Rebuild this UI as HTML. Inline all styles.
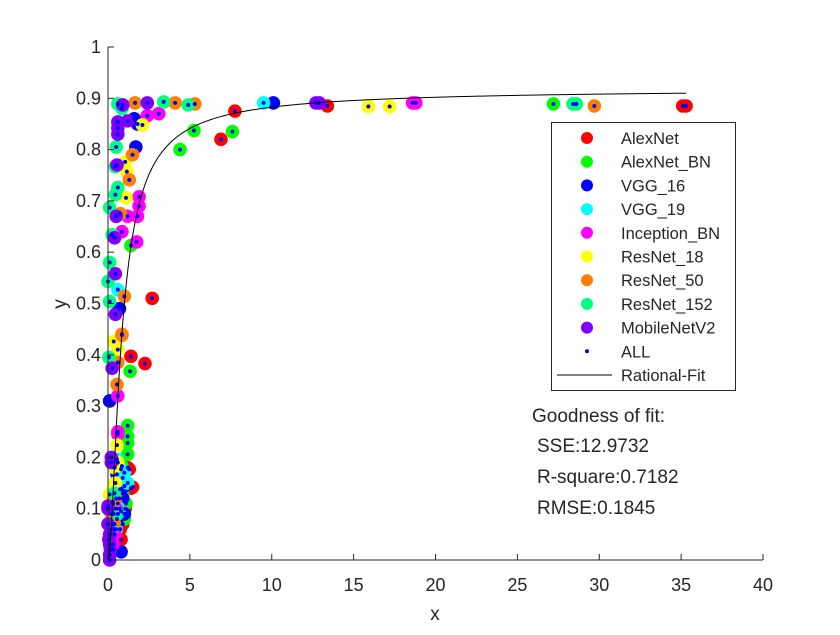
<!DOCTYPE html>
<html><head><meta charset="utf-8"><style>
body{margin:0;background:#fff;}
svg text{font-family:"Liberation Sans",sans-serif;fill:#262626;}
</style></head><body>
<svg id="chart" width="840" height="630" xmlns="http://www.w3.org/2000/svg">
<rect width="840" height="630" fill="#fff"/>
<g id="marks"></g>
<g id="axes"></g>
<g id="legend"></g>
<g font-size="19">
<text x="532" y="422">Goodness of fit:</text>
<text x="537" y="452">SSE:12.9732</text>
<text x="537" y="483">R-square:0.7182</text>
<text x="537" y="514">RMSE:0.1845</text>
</g>
</svg>
<script>
const seriesNames=["AlexNet","AlexNet_BN","VGG_16","VGG_19","Inception_BN","ResNet_18","ResNet_50","ResNet_152","MobileNetV2"];
const seriesColors=["#ff0000","#00ff00","#0000ff","#00ffff","#ff00ff","#ffff00","#ff8000","#00ff80","#8000ff"];
const alexnet=[[35.3,0.885],[35.1,0.885],[13.4,0.885],[7.75,0.875],[6.9,0.82],[2.7,0.51],[2.26,0.383],[1.4,0.397],[1.3,0.177],[1.5,0.142],[0.75,0.06],[0.8,0.04],[0.9,0.07],[1.4,0.14],[1.2,0.18],[1.05,0.1]];
const alexnetBN=[[27.2,0.889],[5.25,0.837],[7.6,0.835],[4.4,0.80],[1.35,0.368],[1.2,0.262],[1.2,0.241],[1.2,0.228],[1.2,0.206],[0.85,0.183],[0.8,0.095],[1.1,0.11],[1.4,0.613],[0.9,0.13],[1.0,0.08],[0.7,0.12]];
const vgg16=[[10.1,0.891],[1.7,0.805],[1.8,0.85],[0.55,0.167],[0.75,0.138],[1.0,0.144],[0.55,0.08],[0.1,0.31],[0.7,0.49],[0.8,0.016],[1.0,0.09],[1.6,0.86],[0.3,0.02],[0.9,0.12],[0.6,0.11],[0.4,0.06]];
const vgg19=[[9.5,0.891],[0.6,0.527],[0.8,0.177],[0.55,0.196],[0.9,0.16],[1.2,0.15],[0.5,0.06],[0.7,0.1],[1.0,0.17],[0.35,0.09]];
const inceptionBN=[[18.6,0.891],[18.8,0.891],[1.9,0.708],[1.8,0.67],[1.2,0.67],[1.75,0.62],[0.85,0.64],[3.1,0.87],[2.4,0.866],[0.6,0.32],[0.6,0.25],[0.6,0.245],[0.4,0.05],[1.9,0.69],[0.5,0.1],[0.3,0.03]];
const resnet18=[[15.9,0.884],[17.2,0.884],[1.05,0.776],[1.15,0.757],[1.1,0.706],[2.1,0.848],[0.35,0.426],[0.55,0.224],[0.4,0.18],[0.1,0.128],[0.3,0.07],[0.6,0.41],[0.45,0.15],[0.3,0.11],[0.6,0.19]];
const resnet50=[[29.7,0.885],[5.3,0.889],[4.1,0.891],[1.65,0.891],[1.5,0.79],[1.3,0.741],[0.75,0.675],[1.0,0.514],[0.85,0.438],[0.6,0.385],[0.55,0.342],[0.3,0.113],[0.2,0.09],[0.85,0.44],[0.5,0.12],[0.4,0.07]];
const resnet152=[[28.4,0.889],[28.6,0.889],[4.9,0.887],[3.4,0.893],[0.6,0.889],[0.5,0.805],[0.45,0.767],[0.6,0.726],[0.45,0.712],[0.1,0.687],[0.25,0.634],[0.1,0.58],[0.0,0.543],[0.1,0.504],[0.05,0.395],[0.2,0.06],[0.85,0.88],[0.4,0.13],[0.6,0.09]];
const mobilenet=[[12.7,0.891],[12.9,0.891],[2.4,0.891],[0.9,0.887],[0.6,0.854],[0.6,0.842],[0.6,0.83],[1.2,0.856],[0.55,0.77],[0.5,0.67],[0.4,0.628],[0.45,0.558],[0.45,0.479],[0.25,0.374],[0.2,0.2],[0.2,0.19],[0.0,0.105],[0.1,0.05],[0.1,0.03],[0.1,0.01],[0.1,0.0],[0.0,0.07],[0.05,0.04],[0.15,0.02],[0.0,0.1]];
const allSeries=[alexnet,alexnetBN,vgg16,vgg19,inceptionBN,resnet18,resnet50,resnet152,mobilenet];
const xTicks=[0,5,10,15,20,25,30,35,40];
const yTicks=[0,0.1,0.2,0.3,0.4,0.5,0.6,0.7,0.8,0.9,1];
const yTickLabels=["0","0.1","0.2","0.3","0.4","0.5","0.6","0.7","0.8","0.9","1"];
const fitCoef=[0.92,0.376,0.464];
const fitRange=[0,35.3];

const NS="http://www.w3.org/2000/svg";
const X0=108,X1=763,Y0=560,Y1=47;
function sx(v){return X0+(v-0)/(40-0)*(X1-X0);}
function sy(v){return Y0-(v-0)/(1-0)*(Y0-Y1);}
function mk(tag,attrs,parent){const e=document.createElementNS(NS,tag);for(const k in attrs)e.setAttribute(k,attrs[k]);parent.appendChild(e);return e;}
const marks=document.getElementById('marks');
allSeries.forEach((s,i)=>{
  const g=mk('g',{},marks);
  
  
  s.forEach(p=>{
    const c=mk('circle',{cx:sx(p[0]),cy:sy(p[1]),r:6.8,fill:seriesColors[i]},g);
    
    
  });
});
const gAll=mk('g',{},marks);


allSeries.forEach(s=>s.forEach(p=>{
  const c=mk('circle',{cx:sx(p[0]),cy:sy(p[1]),r:2,fill:'#0000ff'},gAll);
  
  
}));
let d='';
for(let k=0;k<=400;k++){
  const x=fitRange[0]+(fitRange[1]-fitRange[0])*Math.pow(k/400,2);
  const y=fitCoef[0]*x*x/(x*x+fitCoef[1]*x+fitCoef[2]);
  d+=(k?'L':'M')+sx(x).toFixed(2)+','+sy(y).toFixed(2);
}
const fit=mk('path',{d:d,fill:'none',stroke:'#000','stroke-width':1},marks);



const axes=document.getElementById('axes');
const xa=mk('line',{x1:X0,y1:Y0,x2:X1,y2:Y0,stroke:'#262626','stroke-width':1},axes);


const ya=mk('line',{x1:X0,y1:Y0,x2:X0,y2:Y1,stroke:'#262626','stroke-width':1},axes);


xTicks.forEach(v=>{
  const t=mk('line',{x1:sx(v),y1:Y0,x2:sx(v),y2:Y0-6,stroke:'#262626'},axes);
  
  
  const l=mk('text',{x:sx(v),y:Y0+31,'text-anchor':'middle','font-size':18},axes);
  l.textContent=String(v);
  
  
});
yTicks.forEach((v,i)=>{
  const t=mk('line',{x1:X0,y1:sy(v),x2:X0+6,y2:sy(v),stroke:'#262626'},axes);
  
  
  const l=mk('text',{x:X0-7,y:sy(v)+6,'text-anchor':'end','font-size':18},axes);
  l.textContent=yTickLabels[i];
  
  
});
const xt=mk('text',{x:435,y:620,'text-anchor':'middle','font-size':19},axes);
xt.textContent='x';


const yt=mk('text',{x:66,y:304,'text-anchor':'middle','font-size':19,transform:'rotate(-90 66 304)'},axes);
yt.textContent='y';



const lg=document.getElementById('legend');
const box=mk('rect',{x:551.5,y:122.5,width:184,height:268,fill:'#fff',stroke:'#262626'},lg);


const labels=seriesNames.concat(['ALL','Rational-Fit']);
labels.forEach((n,i)=>{
  const cy=138+i*23.7;
  const g=mk('g',{},lg);
  
  
  if(i<9){mk('circle',{cx:587,cy:cy,r:6,fill:seriesColors[i]},g);}
  else if(i==9){mk('circle',{cx:587,cy:cy,r:2,fill:'#0000ff'},g);}
  else{mk('line',{x1:557,y1:cy,x2:612,y2:cy,stroke:'#000'},g);}
  const t=mk('text',{x:621,y:cy+6,'font-size':16.5},g);
  t.textContent=n;
});
</script>
</body></html>
